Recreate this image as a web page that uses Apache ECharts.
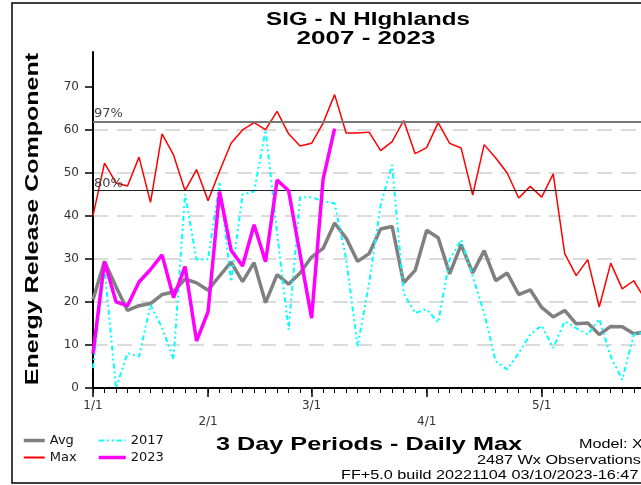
<!DOCTYPE html>
<html>
<head>
<meta charset="utf-8">
<script src="https://cdn.jsdelivr.net/npm/echarts@6.0.0/dist/echarts.min.js"></script>
<style>
  html, body { margin: 0; padding: 0; background: #fff; }
  #chartErc { width: 641px; height: 485px; }
</style>
</head>
<body>
<div id="chartErc"></div>
<script>
// 3 day periods from 1/1 (index 0 = 1/1)
var monthPos = [0, 10, 19, 29, 39];
var monthLabels = ['1/1', '2/1', '3/1', '4/1', '5/1'];
var yTicks = [0, 10, 20, 30, 40, 50, 60, 70];

var avgVals = [20.5, 29.4, 23.5, 18.0, 19.1, 19.6, 21.7, 22.3, 25.3, 24.4,
  22.7, 26.0, 29.2, 24.7, 29.1, 19.8, 26.3, 24.1, 26.7, 30.4,
  32.4, 38.3, 34.8, 29.4, 31.2, 36.9, 37.5, 24.4, 27.3, 36.6,
  34.9, 26.5, 33.3, 26.7, 31.9, 24.9, 26.7, 21.7, 22.8, 18.7,
  16.5, 18.0, 14.9, 15.1, 12.4, 14.3, 14.2, 12.6, 13.0];
var maxVals = [40.0, 52.2, 47.6, 46.9, 53.6, 43.1, 59.0, 54.1, 45.8, 50.7,
  43.5, 50.3, 56.8, 59.9, 61.6, 60.0, 64.2, 59.0, 56.2, 56.8,
  61.5, 68.1, 59.2, 59.2, 59.4, 55.1, 57.2, 62.1, 54.4, 55.8,
  61.6, 56.8, 55.7, 44.8, 56.5, 53.4, 49.9, 44.1, 46.8, 44.3,
  49.7, 31.2, 26.1, 29.8, 18.8, 29.0, 23.0, 24.9, 20.5];
var vals2017 = [4.6, 28.0, 0.0, 8.1, 7.3, 19.3, 14.0, 6.7, 45.0, 29.8,
  29.9, 47.6, 24.7, 44.9, 45.6, 59.9, 36.0, 13.5, 44.3, 44.3,
  43.3, 42.9, 30.0, 9.7, 24.4, 42.5, 51.8, 22.0, 17.4, 18.3,
  15.2, 29.8, 34.4, 25.9, 17.4, 6.2, 4.3, 8.1, 12.4, 14.5,
  9.3, 15.5, 13.9, 12.4, 16.0, 7.3, 1.9, 12.4, 13.0];
var vals2023 = [8.0, 29.3, 20.0, 19.1, 24.6, 27.5, 30.9, 21.0, 28.2, 10.9,
  17.7, 45.6, 32.0, 28.3, 37.9, 29.3, 48.3, 45.8, 31.0, 16.2,
  48.5, 60.2];

var pct97 = 61.9;
var pct80 = 45.8;

var xMax = 47.63; // visible end of the period axis
var periodTicks = [];
for (var p = 0; p <= 47; p++) periodTicks.push(p);

function toPairs(arr) {
  return arr.map(function (v, i) { return [i, v]; });
}

var titleFont = 'bold 19px "Liberation Sans", Arial, sans-serif';
var smallFont = '12px "Liberation Sans", Arial, sans-serif';

var chartErc = echarts.init(document.getElementById('chartErc'));
var chart_option = {
  animation: false,
  backgroundColor: '#fff',
  grid: { left: 93, right: 0, top: 52, bottom: 97, containLabel: false },
  legend: [
    {
      data: [
        { name: 'Avg', lineStyle: { width: 3.5 } },
        { name: 'Max', lineStyle: { width: 2 } }
      ],
      orient: 'vertical',
      left: 17, top: 429,
      itemWidth: 21, itemHeight: 14, itemGap: 4,
      itemStyle: { opacity: 0 },   // line only, no symbol
      textStyle: { fontFamily: 'DejaVu Sans', fontSize: 13, color: '#111' }
    },
    {
      data: [
        { name: '2017', lineStyle: { width: 2 } },
        { name: '2023', lineStyle: { width: 3.5 } }
      ],
      orient: 'vertical',
      left: 92, top: 429,
      itemWidth: 27, itemHeight: 14, itemGap: 4,
      itemStyle: { opacity: 0 },
      textStyle: { fontFamily: 'DejaVu Sans', fontSize: 13, color: '#111' }
    }
  ],
  xAxis: [
    {
      type: 'value',
      min: 0, max: xMax,
      axisLine: { lineStyle: { color: '#000', width: 2 } },
      axisTick: { customValues: periodTicks, length: 5, lineStyle: { color: '#000', width: 1 } },
      axisLabel: {
        customValues: monthPos,
        margin: 10,
        lineHeight: 16,
        fontFamily: 'DejaVu Sans', fontSize: 12, color: '#333',
        formatter: function (value) {
          var k = monthPos.indexOf(Math.round(value));
          if (k < 0) return '';
          return (k % 2 === 1 ? '\n' : '') + monthLabels[k];
        }
      },
      splitLine: { show: false }
    },
    {
      // longer month ticks
      type: 'value',
      position: 'bottom',
      min: 0, max: xMax,
      axisLine: { show: false },
      axisTick: { customValues: monthPos, length: 9, lineStyle: { color: '#000', width: 1.5 } },
      axisLabel: { show: false },
      splitLine: { show: false }
    }
  ],
  yAxis: {
    type: 'value',
    min: 0, max: 78, interval: 10,
    axisLine: { show: true, lineStyle: { color: '#000', width: 2 } },
    axisTick: { show: true, customValues: yTicks, length: 8, lineStyle: { color: '#000', width: 1.5 } },
    axisLabel: {
      customValues: yTicks,
      margin: 14,
      fontFamily: 'DejaVu Sans', fontSize: 12, color: '#333'
    },
    splitLine: {
      show: true, showMinLine: false, showMaxLine: false,
      lineStyle: { color: '#d0d0d0', width: 1.5, type: [15, 9] }
    }
  },
  series: [
    {
      name: 'Avg', type: 'line', symbol: 'none', z: 2,
      data: toPairs(avgVals),
      itemStyle: { color: '#808080' },
      lineStyle: { color: '#808080', width: 3.5 },
      markLine: {
        silent: true, symbol: 'none', animation: false,
        label: {
          position: 'insideStartTop', distance: [1, 1],
          fontFamily: 'DejaVu Sans', fontSize: 13, color: '#444',
          formatter: function (p) { return p.name; }
        },
        data: [
          { name: '97%', yAxis: pct97, lineStyle: { color: '#777', width: 2, type: 'solid' } },
          { name: '80%', yAxis: pct80, lineStyle: { color: '#222', width: 1.2, type: 'solid' } }
        ]
      }
    },
    {
      name: 'Max', type: 'line', symbol: 'none', z: 3,
      data: toPairs(maxVals),
      itemStyle: { color: '#ff0000' },
      lineStyle: { color: '#ff0000', width: 1.5 }
    },
    {
      name: '2017', type: 'line', symbol: 'none', z: 4,
      data: toPairs(vals2017),
      itemStyle: { color: '#00ffff' },
      lineStyle: { color: '#00ffff', width: 2, type: [5, 3, 2, 3, 2, 3] }
    },
    {
      name: '2023', type: 'line', symbol: 'none', z: 5,
      data: toPairs(vals2023),
      itemStyle: { color: '#ff00ff' },
      lineStyle: { color: '#ff00ff', width: 3.5 }
    }
  ],
  graphic: [
    // outer frame
    { type: 'rect', shape: { x: 12, y: 3, width: 700, height: 480 },
      style: { fill: 'none', stroke: '#000', lineWidth: 1.5 }, z: 0 },
    { type: 'text', x: 368, y: 20, scaleX: 1.27,
      style: { text: 'SIG - N HIghlands', font: titleFont, fill: '#000', align: 'center', verticalAlign: 'middle' } },
    { type: 'text', x: 366, y: 39, scaleX: 1.37,
      style: { text: '2007 - 2023', font: titleFont, fill: '#000', align: 'center', verticalAlign: 'middle' } },
    { type: 'text', x: 33, y: 219, rotation: Math.PI / 2, scaleX: 1.39,
      style: { text: 'Energy Release Component', font: 'bold 18px "Liberation Sans", Arial, sans-serif', fill: '#000', align: 'center', verticalAlign: 'middle' } },
    { type: 'text', x: 369, y: 445, scaleX: 1.33,
      style: { text: '3 Day Periods - Daily Max', font: titleFont, fill: '#000', align: 'center', verticalAlign: 'middle' } },
    { type: 'text', x: 579, y: 445, scaleX: 1.35,
      style: { text: 'Model: X', font: smallFont, fill: '#000', align: 'left', verticalAlign: 'middle' } },
    { type: 'text', x: 477, y: 461, scaleX: 1.35,
      style: { text: '2487 Wx Observations', font: smallFont, fill: '#000', align: 'left', verticalAlign: 'middle' } },
    { type: 'text', x: 341, y: 476, scaleX: 1.35,
      style: { text: 'FF+5.0 build 20221104 03/10/2023-16:47', font: smallFont, fill: '#000', align: 'left', verticalAlign: 'middle' } }
  ]
};
chartErc.setOption(chart_option);
</script>
</body>
</html>
